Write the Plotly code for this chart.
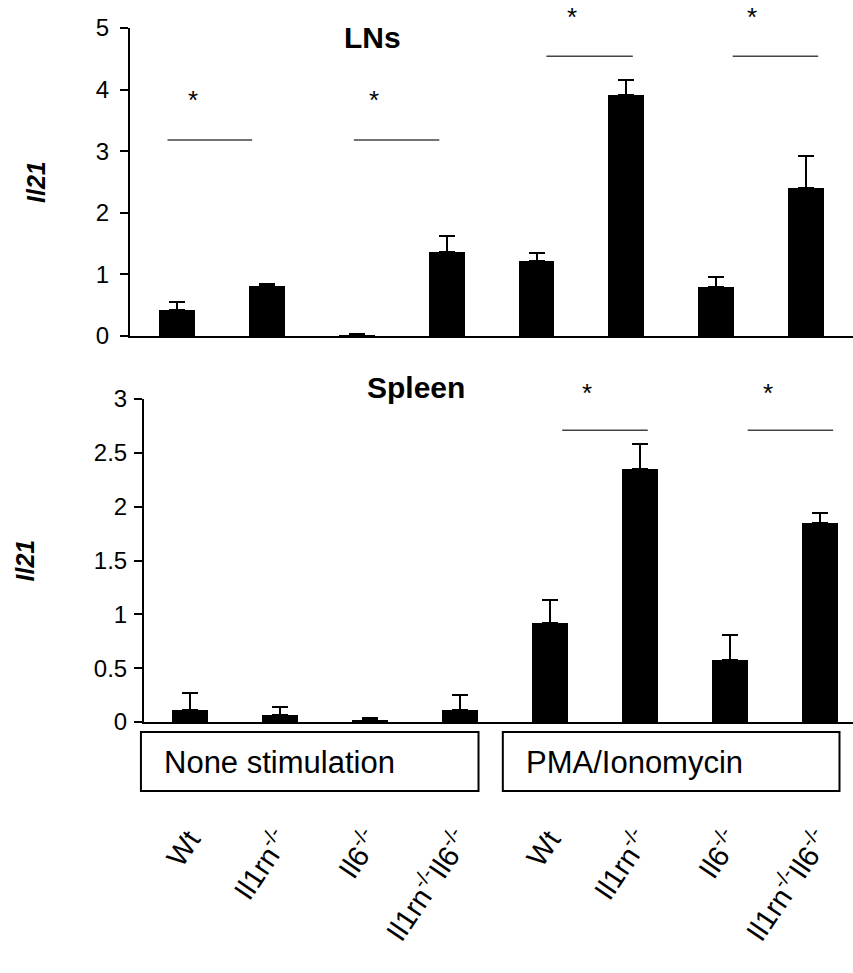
import plotly.graph_objects as go

# ---------------- data ----------------
categories = ["Wt", "Il1rn<sup>-/-</sup>", "Il6<sup>-/-</sup>", "Il1rn<sup>-/-</sup>Il6<sup>-/-</sup>",
              "Wt", "Il1rn<sup>-/-</sup>", "Il6<sup>-/-</sup>", "Il1rn<sup>-/-</sup>Il6<sup>-/-</sup>"]
ln_mean = [0.43, 0.81, 0.015, 1.36, 1.22, 3.91, 0.80, 2.40]
ln_err = [0.13, 0.03, 0.01, 0.26, 0.12, 0.25, 0.15, 0.53]
spleen_mean = [0.11, 0.065, 0.02, 0.11, 0.92, 2.35, 0.58, 1.85]
spleen_err = [0.16, 0.075, 0.015, 0.14, 0.21, 0.23, 0.23, 0.09]

# significance brackets: (x start, x end, line y, star x, star y)
ln_sig = [(-0.1, 0.84, 3.18, 0.18, 3.83), (1.97, 2.92, 3.18, 2.19, 3.83),
          (4.11, 5.07, 4.54, 4.39, 5.18), (6.18, 7.13, 4.54, 6.40, 5.18)]
spleen_sig = [(4.14, 5.09, 2.71, 4.42, 3.06), (6.20, 7.15, 2.71, 6.43, 3.06)]

group_boxes = [("None stimulation", -0.54, 3.21), ("PMA/Ionomycin", 3.48, 7.22)]

ln_yticks = [0, 1, 2, 3, 4, 5]
spleen_yticks = [0, 0.5, 1, 1.5, 2, 2.5, 3]
spleen_yticktext = ["0", "0.5", "1", "1.5", "2", "2.5", "3"]

# ---------------- layout constants ----------------
W, H = 853, 973
FONT = "Liberation Sans, Arial, Helvetica, sans-serif"
x_pos = list(range(len(categories)))

xr1 = [-0.517, 7.517]
xr2 = [-0.506, 7.37]
yr1 = [0, 5]
yr2 = [0, 3]


def px_y(p):
    return 1 - p / H


fig = go.Figure()

fig.add_trace(go.Bar(
    x=x_pos, y=ln_mean, width=0.4, marker=dict(color="black", line=dict(width=0)),
    error_y=dict(type="data", array=ln_err, arrayminus=[0] * len(ln_err), symmetric=False,
                 color="black", thickness=2, width=8),
    xaxis="x", yaxis="y", showlegend=False))

fig.add_trace(go.Bar(
    x=x_pos, y=spleen_mean, width=0.4, marker=dict(color="black", line=dict(width=0)),
    error_y=dict(type="data", array=spleen_err, arrayminus=[0] * len(spleen_err), symmetric=False,
                 color="black", thickness=2, width=8),
    xaxis="x2", yaxis="y2", showlegend=False))

axis_common = dict(showgrid=False, zeroline=False, showline=True, linecolor="black", linewidth=2,
                   automargin=False)

fig.update_layout(
    width=W, height=H,
    margin=dict(l=0, r=0, t=0, b=0, autoexpand=False),
    paper_bgcolor="white", plot_bgcolor="white",
    font=dict(family=FONT, color="black"),
    bargap=0,
    xaxis=dict(domain=[130 / W, 1], range=xr1, anchor="y", tickvals=x_pos, showticklabels=False,
               ticks="", **axis_common),
    yaxis=dict(domain=[px_y(336), px_y(28)], range=yr1, anchor="x", tickvals=ln_yticks,
               ticks="outside", ticklen=8, tickwidth=2, tickcolor="black",
               tickfont=dict(size=24, family=FONT), ticklabelstandoff=6, **axis_common),
    xaxis2=dict(domain=[144 / W, 1], range=xr2, anchor="y2", tickvals=x_pos, ticktext=categories,
                ticks="", tickangle=-56, tickfont=dict(size=29, family=FONT),
                ticklabelstandoff=87, **axis_common),
    yaxis2=dict(domain=[px_y(722), px_y(399)], range=yr2, anchor="x2", tickvals=spleen_yticks,
                ticktext=spleen_yticktext,
                ticks="outside", ticklen=8, tickwidth=2, tickcolor="black",
                tickfont=dict(size=24, family=FONT), ticklabelstandoff=2, **axis_common),
)

shapes = []
annotations = []

# significance lines and stars
for (xa, xb, ly, sx, sy) in ln_sig:
    shapes.append(dict(type="line", xref="x", yref="y", x0=xa, x1=xb, y0=ly, y1=ly,
                       line=dict(color="#444444", width=1.5)))
    annotations.append(dict(xref="x", yref="y domain", x=sx, y=sy / yr1[1], text="*",
                            showarrow=False, font=dict(size=26, family=FONT),
                            xanchor="center", yanchor="middle"))
for (xa, xb, ly, sx, sy) in spleen_sig:
    shapes.append(dict(type="line", xref="x2", yref="y2", x0=xa, x1=xb, y0=ly, y1=ly,
                       line=dict(color="#444444", width=1.5)))
    annotations.append(dict(xref="x2", yref="y2 domain", x=sx, y=sy / yr2[1], text="*",
                            showarrow=False, font=dict(size=26, family=FONT),
                            xanchor="center", yanchor="middle"))


def x2dom(v):
    return (v - xr2[0]) / (xr2[1] - xr2[0])


# group boxes
for (label, xa, xb) in group_boxes:
    shapes.append(dict(type="rect", xref="x2 domain", yref="paper", x0=x2dom(xa), x1=x2dom(xb),
                       y0=px_y(791), y1=px_y(732), line=dict(color="black", width=2),
                       fillcolor="rgba(0,0,0,0)"))
    annotations.append(dict(xref="x2 domain", yref="paper", x=x2dom(xa + 0.235), y=px_y(762),
                            text=label, showarrow=False, xanchor="left", yanchor="middle",
                            font=dict(size=31, family=FONT)))

# panel titles
annotations.append(dict(xref="paper", yref="paper", x=372 / W, y=px_y(38), text="<b>LNs</b>",
                        showarrow=False, xanchor="center", yanchor="middle",
                        font=dict(size=30, family=FONT)))
annotations.append(dict(xref="paper", yref="paper", x=416 / W, y=px_y(388), text="<b>Spleen</b>",
                        showarrow=False, xanchor="center", yanchor="middle",
                        font=dict(size=30, family=FONT)))

# y-axis titles
annotations.append(dict(xref="paper", yref="y domain", x=36 / W, y=0.5, text="<b><i>Il21</i></b>",
                        textangle=-90, showarrow=False, xanchor="center", yanchor="middle",
                        font=dict(size=25, family=FONT)))
annotations.append(dict(xref="paper", yref="y2 domain", x=24 / W, y=0.5, text="<b><i>Il21</i></b>",
                        textangle=-90, showarrow=False, xanchor="center", yanchor="middle",
                        font=dict(size=25, family=FONT)))

fig.update_layout(shapes=shapes, annotations=annotations)

fig.write_html("out.html", config={"displayModeBar": False},
               post_script="document.body.style.margin='0px';")
